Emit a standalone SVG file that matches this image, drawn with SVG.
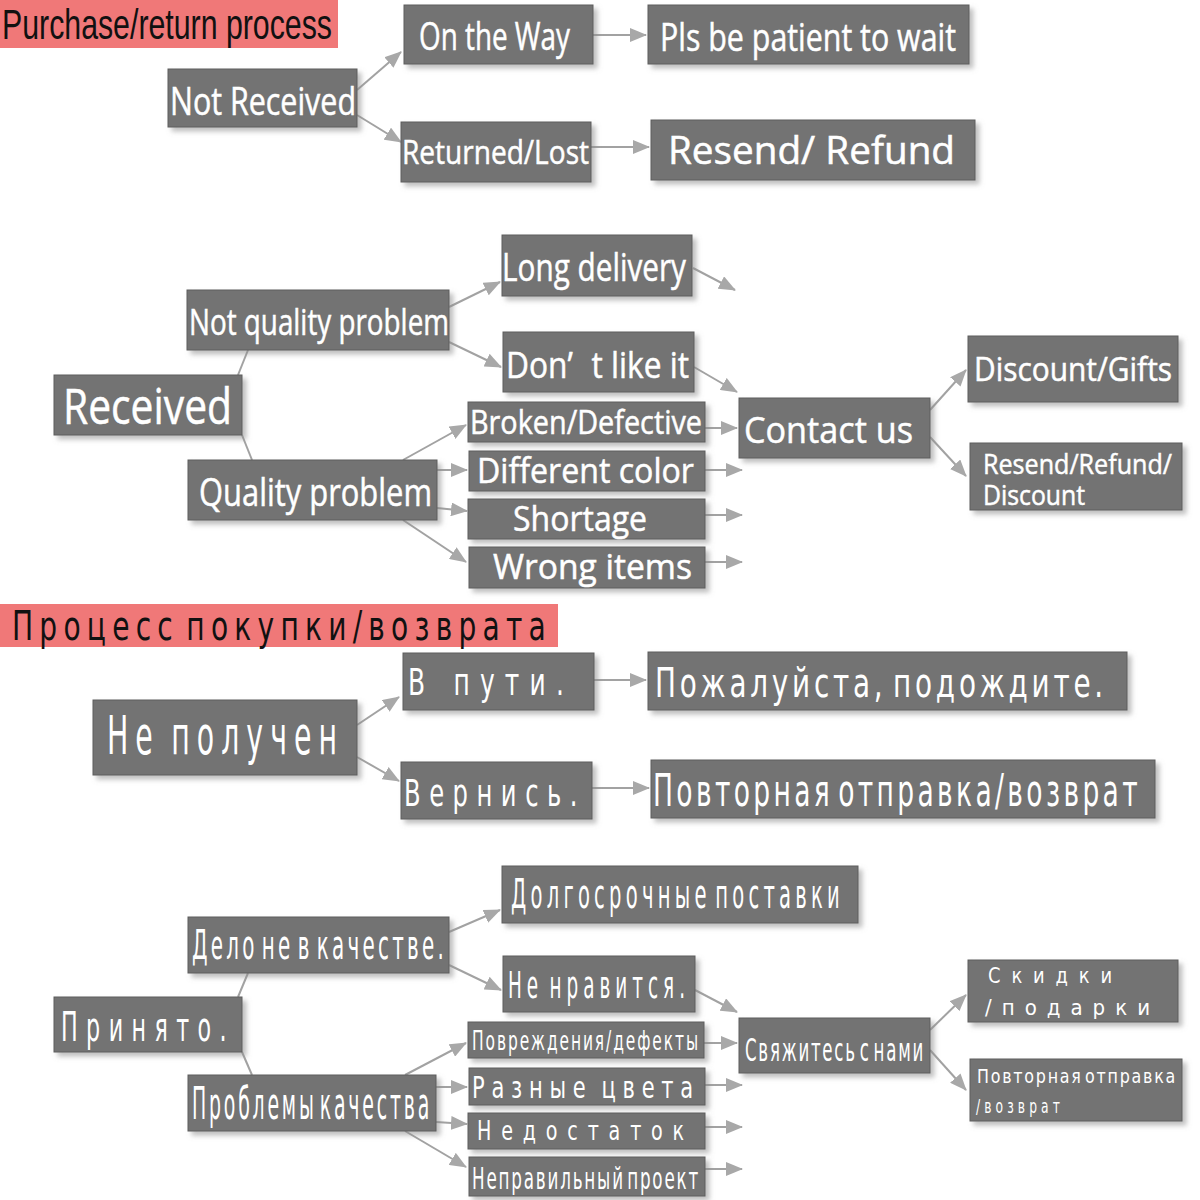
<svg xmlns="http://www.w3.org/2000/svg" width="1200" height="1200" viewBox="0 0 1200 1200">
<style>
.bg{fill:#ffffff}
.title{fill:#f07878}
.box{fill:#737373;stroke:#5c5c5c;stroke-width:1;filter:url(#sh)}
.t{fill:#ffffff;font-family:"Open Sans","Noto Sans",sans-serif;stroke:#ffffff;stroke-width:0.5}
.r{fill:#ffffff;font-family:"Liberation Sans Narrow","DejaVu Sans Condensed","Liberation Sans",sans-serif}
.tt{fill:#111111;font-family:"Liberation Sans Narrow","Liberation Sans",sans-serif}
.tr{fill:#111111;font-family:"Liberation Sans Narrow","DejaVu Sans Condensed","Liberation Sans",sans-serif}
.c line{stroke:#a2a2a2;stroke-width:2;fill:none}
.c line.a{marker-end:url(#ah)}
</style>
<defs>
<filter id="sh" x="-10%" y="-20%" width="125%" height="150%">
<feDropShadow dx="4" dy="4" stdDeviation="2.5" flood-color="#8a8a8a" flood-opacity="0.55"/>
</filter>
<marker id="ah" markerUnits="userSpaceOnUse" markerWidth="18" markerHeight="14" refX="16" refY="7" orient="auto">
<path d="M0,0 L17,7 L0,14 z" fill="#a8a8a8"/>
</marker>
</defs>
<rect class="bg" x="0" y="0" width="1200" height="1200"/>

<!-- English section -->
<g id="title-en">
<rect class="title" x="0" y="0" width="338" height="48"/>
<text class="tt" x="2" y="39" font-size="42" textLength="330" lengthAdjust="spacingAndGlyphs">Purchase/return process</text>
</g>

<g class="c" id="connectors">
<line class="a" x1="357" y1="90" x2="401" y2="52"/>
<line class="a" x1="357" y1="115" x2="401" y2="142"/>
<line class="a" x1="593" y1="35" x2="646" y2="35"/>
<line class="a" x1="591" y1="147" x2="649" y2="147"/>
<line x1="238" y1="375" x2="248" y2="350"/>
<line x1="242" y1="435" x2="252" y2="460"/>
<line class="a" x1="449" y1="307" x2="500" y2="282"/>
<line class="a" x1="449" y1="342" x2="501" y2="367"/>
<line class="a" x1="693" y1="268" x2="735" y2="290"/>
<line class="a" x1="694" y1="367" x2="737" y2="392"/>
<line class="a" x1="403" y1="460" x2="466" y2="425"/>
<line class="a" x1="437" y1="470" x2="467" y2="470"/>
<line class="a" x1="437" y1="508" x2="467" y2="511"/>
<line class="a" x1="403" y1="520" x2="466" y2="562"/>
<line class="a" x1="705" y1="428" x2="737" y2="428"/>
<line class="a" x1="705" y1="470" x2="742" y2="470"/>
<line class="a" x1="705" y1="515" x2="742" y2="515"/>
<line class="a" x1="705" y1="562" x2="742" y2="562"/>
<line class="a" x1="930" y1="410" x2="966" y2="370"/>
<line class="a" x1="930" y1="437" x2="966" y2="476"/>
<!-- Russian -->
<line class="a" x1="357" y1="725" x2="399" y2="697"/>
<line class="a" x1="357" y1="757" x2="399" y2="781"/>
<line class="a" x1="594" y1="680" x2="646" y2="680"/>
<line class="a" x1="592" y1="788" x2="649" y2="788"/>
<line x1="238" y1="997" x2="248" y2="973"/>
<line x1="242" y1="1052" x2="252" y2="1075"/>
<line class="a" x1="449" y1="932" x2="500" y2="910"/>
<line class="a" x1="449" y1="965" x2="501" y2="990"/>
<line class="a" x1="695" y1="990" x2="737" y2="1012"/>
<line class="a" x1="405" y1="1075" x2="466" y2="1043"/>
<line class="a" x1="436" y1="1087" x2="467" y2="1087"/>
<line class="a" x1="436" y1="1122" x2="467" y2="1124"/>
<line class="a" x1="405" y1="1131" x2="466" y2="1167"/>
<line class="a" x1="704" y1="1043" x2="737" y2="1043"/>
<line class="a" x1="705" y1="1085" x2="742" y2="1085"/>
<line class="a" x1="705" y1="1127" x2="742" y2="1127"/>
<line class="a" x1="705" y1="1169" x2="742" y2="1169"/>
<line class="a" x1="930" y1="1030" x2="966" y2="995"/>
<line class="a" x1="930" y1="1050" x2="966" y2="1090"/>
</g>

<g id="on-the-way"><rect class="box" x="404" y="5" width="189" height="59"/>
<text class="t" x="419" y="50" font-size="38" textLength="151" lengthAdjust="spacingAndGlyphs">On the Way</text></g>
<g id="pls-wait"><rect class="box" x="648" y="5" width="321" height="59"/>
<text class="t" x="660" y="51" font-size="38" textLength="296" lengthAdjust="spacingAndGlyphs">Pls be patient to wait</text></g>
<g id="not-received"><rect class="box" x="168" y="69" width="189" height="58"/>
<text class="t" x="170" y="115" font-size="38" textLength="186" lengthAdjust="spacingAndGlyphs">Not Received</text></g>
<g id="returned-lost"><rect class="box" x="401" y="122" width="190" height="60"/>
<text class="t" x="402" y="164" font-size="32" textLength="187" lengthAdjust="spacingAndGlyphs">Returned/Lost</text></g>
<g id="resend-refund"><rect class="box" x="651" y="120" width="324" height="60"/>
<text class="t" x="668" y="164" font-size="38" textLength="287" lengthAdjust="spacingAndGlyphs">Resend/ Refund</text></g>

<g id="long-delivery"><rect class="box" x="502" y="235" width="190" height="61"/>
<text class="t" x="502" y="281" font-size="38" textLength="184" lengthAdjust="spacingAndGlyphs">Long delivery</text></g>
<g id="not-quality"><rect class="box" x="187" y="290" width="262" height="60"/>
<text class="t" x="189" y="335" font-size="36" textLength="260" lengthAdjust="spacingAndGlyphs">Not quality problem</text></g>
<g id="dont-like"><rect class="box" x="503" y="332" width="191" height="60"/>
<text class="t" x="506" y="378" font-size="36" textLength="183" lengthAdjust="spacingAndGlyphs">Don’ <tspan dx="12">t like it</tspan></text></g>
<g id="received"><rect class="box" x="54" y="375" width="188" height="60"/>
<text class="t" x="63" y="424" font-size="50" textLength="169" lengthAdjust="spacingAndGlyphs">Received</text></g>
<g id="quality"><rect class="box" x="188" y="460" width="249" height="60"/>
<text class="t" x="199" y="506" font-size="38" textLength="233" lengthAdjust="spacingAndGlyphs">Quality problem</text></g>
<g id="broken"><rect class="box" x="468" y="402" width="237" height="40"/>
<text class="t" x="470" y="434" font-size="32" textLength="232" lengthAdjust="spacingAndGlyphs">Broken/Defective</text></g>
<g id="different-color"><rect class="box" x="469" y="451" width="236" height="40"/>
<text class="t" x="477" y="483" font-size="34" textLength="217" lengthAdjust="spacingAndGlyphs">Different color</text></g>
<g id="shortage"><rect class="box" x="468" y="499" width="237" height="40"/>
<text class="t" x="513" y="531" font-size="34" textLength="134" lengthAdjust="spacingAndGlyphs">Shortage</text></g>
<g id="wrong-items"><rect class="box" x="469" y="547" width="236" height="41"/>
<text class="t" x="493" y="579" font-size="34" textLength="199" lengthAdjust="spacingAndGlyphs">Wrong items</text></g>
<g id="contact-us"><rect class="box" x="739" y="398" width="191" height="60"/>
<text class="t" x="744" y="443" font-size="37" textLength="169" lengthAdjust="spacingAndGlyphs">Contact us</text></g>
<g id="discount-gifts"><rect class="box" x="968" y="336" width="210" height="66"/>
<text class="t" x="974" y="381" font-size="32" textLength="198" lengthAdjust="spacingAndGlyphs">Discount/Gifts</text></g>
<g id="resend-refund-discount"><rect class="box" x="970" y="443" width="212" height="67"/>
<text class="t" x="983" y="474" font-size="28" textLength="189" lengthAdjust="spacingAndGlyphs">Resend/Refund/</text>
<text class="t" x="983" y="505" font-size="28" textLength="102" lengthAdjust="spacingAndGlyphs">Discount</text></g>

<!-- Russian section -->
<g id="title-ru">
<rect class="title" x="0" y="604" width="558" height="43"/>
<text class="tr" x="12" y="640" font-size="40" letter-spacing="8" word-spacing="-10" textLength="540" lengthAdjust="spacingAndGlyphs">Процесс покупки/возврата</text>
</g>
<g id="v-puti"><rect class="box" x="403" y="653" width="191" height="57"/>
<text class="r" x="408" y="695" font-size="38" letter-spacing="14" textLength="166" lengthAdjust="spacingAndGlyphs">В пути.</text></g>
<g id="pozhaluysta"><rect class="box" x="648" y="652" width="479" height="58"/>
<text class="r" x="655" y="697" font-size="41" letter-spacing="5" word-spacing="-8" textLength="452" lengthAdjust="spacingAndGlyphs">Пожалуйста, подождите.</text></g>
<g id="ne-poluchen"><rect class="box" x="93" y="700" width="264" height="75"/>
<text class="r" x="107" y="754" font-size="54" letter-spacing="12" word-spacing="-8" textLength="237" lengthAdjust="spacingAndGlyphs">Не получен</text></g>
<g id="vernis"><rect class="box" x="401" y="762" width="191" height="57"/>
<text class="r" x="404" y="806" font-size="38" letter-spacing="12" textLength="182" lengthAdjust="spacingAndGlyphs">Вернись.</text></g>
<g id="povtornaya"><rect class="box" x="651" y="760" width="504" height="58"/>
<text class="r" x="653" y="806" font-size="44" letter-spacing="5" word-spacing="-10" textLength="488" lengthAdjust="spacingAndGlyphs">Повторная отправка/возврат</text></g>

<g id="delo-ne"><rect class="box" x="188" y="917" width="261" height="56"/>
<text class="r" x="192" y="959" font-size="41" letter-spacing="6" word-spacing="-10" textLength="255" lengthAdjust="spacingAndGlyphs">Дело не в качестве.</text></g>
<g id="dolgosrochnye"><rect class="box" x="502" y="866" width="356" height="57"/>
<text class="r" x="511" y="908" font-size="41" letter-spacing="8" word-spacing="-11" textLength="333" lengthAdjust="spacingAndGlyphs">Долгосрочные поставки</text></g>
<g id="ne-nravitsya"><rect class="box" x="503" y="956" width="192" height="56"/>
<text class="r" x="508" y="998" font-size="37" letter-spacing="9" word-spacing="-8" textLength="182" lengthAdjust="spacingAndGlyphs">Не нравится.</text></g>
<g id="prinyato"><rect class="box" x="54" y="997" width="188" height="55"/>
<text class="r" x="61" y="1041" font-size="41" letter-spacing="14" textLength="174" lengthAdjust="spacingAndGlyphs">Принято.</text></g>
<g id="problemy"><rect class="box" x="188" y="1075" width="248" height="56"/>
<text class="r" x="192" y="1119" font-size="45" letter-spacing="6" word-spacing="-12" textLength="240" lengthAdjust="spacingAndGlyphs">Проблемы качества</text></g>
<g id="povrezhdeniya"><rect class="box" x="468" y="1022" width="236" height="36"/>
<text class="r" x="472" y="1050" font-size="27" letter-spacing="3" textLength="228" lengthAdjust="spacingAndGlyphs">Повреждения/дефекты</text></g>
<g id="raznye"><rect class="box" x="469" y="1068" width="236" height="37"/>
<text class="r" x="472" y="1098" font-size="31" letter-spacing="9" word-spacing="-6" textLength="228" lengthAdjust="spacingAndGlyphs">Разные цвета</text></g>
<g id="nedostatok"><rect class="box" x="468" y="1113" width="237" height="36"/>
<text class="r" x="477" y="1140" font-size="26" letter-spacing="12" textLength="217" lengthAdjust="spacingAndGlyphs">Недостаток</text></g>
<g id="nepravilny"><rect class="box" x="469" y="1157" width="236" height="39"/>
<text class="r" x="472" y="1189" font-size="31" letter-spacing="3" word-spacing="-8" textLength="228" lengthAdjust="spacingAndGlyphs">Неправильный проект</text></g>
<g id="svyazhites"><rect class="box" x="739" y="1018" width="191" height="55"/>
<text class="r" x="745" y="1061" font-size="32" letter-spacing="3" word-spacing="-7" textLength="180" lengthAdjust="spacingAndGlyphs">Свяжитесь с нами</text></g>
<g id="skidki"><rect class="box" x="968" y="960" width="210" height="62"/>
<text class="r" x="988" y="983" font-size="22" letter-spacing="12" textLength="135" lengthAdjust="spacingAndGlyphs">Скидки</text>
<text class="r" x="985" y="1015" font-size="22" letter-spacing="10" textLength="175" lengthAdjust="spacingAndGlyphs">/подарки</text></g>
<g id="povtornaya2"><rect class="box" x="970" y="1059" width="212" height="62"/>
<text class="r" x="977" y="1083" font-size="20" letter-spacing="2" word-spacing="-5" textLength="200" lengthAdjust="spacingAndGlyphs">Повторная отправка</text>
<text class="r" x="976" y="1113" font-size="20" letter-spacing="6" textLength="88" lengthAdjust="spacingAndGlyphs">/возврат</text></g>
</svg>
